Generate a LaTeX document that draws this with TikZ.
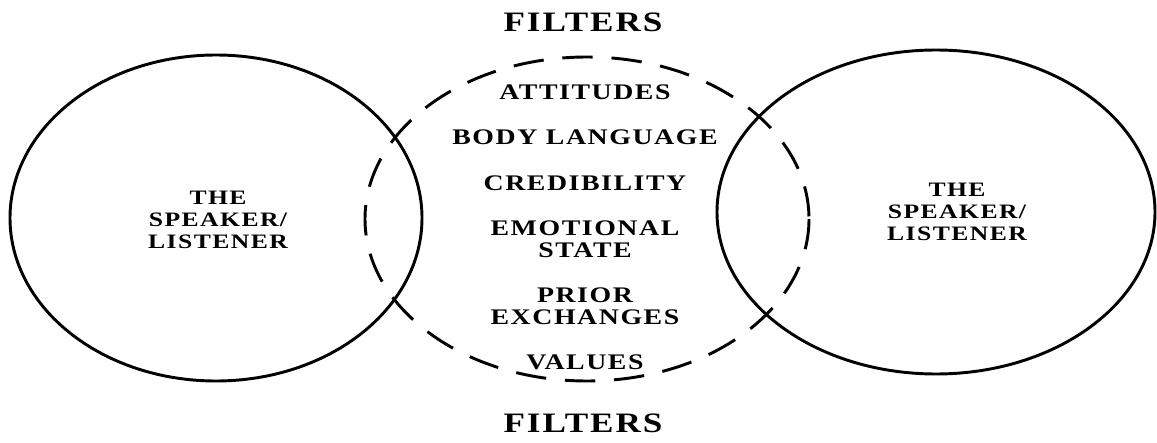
\documentclass[tikz,border=0pt]{standalone}
\usepackage{fontspec}
\setmainfont{Liberation Serif}[FakeStretch=1.25, LetterSpace=7]
\usepackage{tikz}

\begin{document}
\begin{tikzpicture}[x=0.3mm, y=-0.3mm, font=\bfseries,
		person/.style={align=center, font=\fontsize{17.5}{18.8}\selectfont\bfseries},
		filter/.style={align=center, font=\fontsize{19}{18.8}\selectfont\bfseries},
		heading/.style={font=\fontsize{24}{28}\selectfont\bfseries}]
				% Rahmen
				\useasboundingbox (0,0) rectangle (1157,443);
				% Ellipsen zeichnen
				\draw[line width=2.5pt] (216,218) ellipse [x radius=206, y radius=163];
				\draw[line width=2.5pt] (936,212) ellipse [x radius=219, y radius=162];
				\draw[line width=2.5pt, dash pattern=on 26pt off 16pt] (587,219) ellipse [x radius=222, y radius=162];
				% Beschriftung
				\node[heading] (filtop) at (583,22) {FILTERS};
				\node[heading] (filbot) at (583,423) {FILTERS};
				\node[person] (left) at (218,220) {THE\\SPEAKER/\\LISTENER};
				\node[person] (right) at (957,212) {THE\\SPEAKER/\\LISTENER};
				\node[filter] (att) at (585,92) {ATTITUDES};
				\node[filter] (body) at (585,137) {BODY LANGUAGE};
				\node[filter] (cred) at (585,183) {CREDIBILITY};
				\node[filter] (emo) at (585,239) {EMOTIONAL\\STATE};
				\node[filter] (prior) at (585,306) {PRIOR\\EXCHANGES};
				\node[filter] (val) at (585,362) {VALUES};
			\end{tikzpicture}
\end{document}
